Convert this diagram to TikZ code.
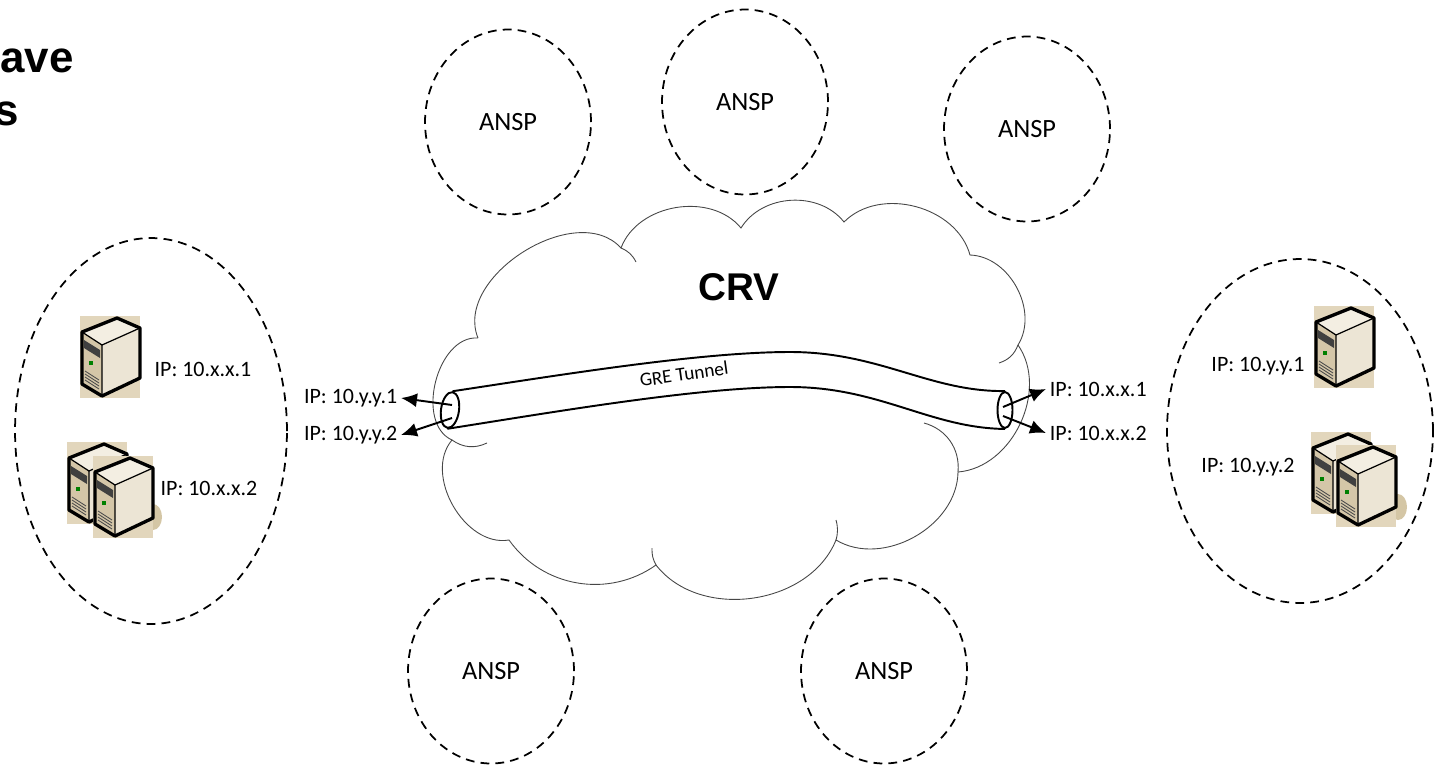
\documentclass[tikz,border=0pt]{standalone}
\usepackage{fontspec}
\setmainfont{Carlito}
\newfontfamily\arialfont{Liberation Sans}
\usetikzlibrary{arrows.meta,shapes.geometric}

\definecolor{srvbg}{RGB}{226,214,188}
\definecolor{srvshade}{RGB}{212,198,165}
\definecolor{srvtop}{RGB}{243,238,226}
\definecolor{srvfront}{RGB}{212,198,168}
\definecolor{srvside}{RGB}{236,229,213}
\definecolor{cloudline}{RGB}{70,70,70}

\tikzset{
  server/.pic={
    \fill[srvbg] (0,0) rectangle (60,82);
    \fill[srvtop] (2,16) -- (37,2) -- (60,12) -- (22,29) -- cycle;
    \fill[srvfront] (2,16) -- (22,29) -- (22,80) -- (2,68) -- cycle;
    \fill[srvside] (22,29) -- (60,12) -- (60,62) -- (22,80) -- cycle;
    \fill[black!75] (4,24) -- (20,34) -- (20,42) -- (4,32) -- cycle;
    \fill[green!50!black] (9,45) rectangle (13,49);
    \foreach \k in {0,3,6,9}
      \draw[black!70, line width=0.5pt] (5,55+\k) -- (19,64+\k);
    \draw[line width=0.7pt] (2,16) -- (22,29) -- (60,12) (22,29) -- (22,80);
    \draw[line width=1.9pt, line join=round] (2,16) -- (37,2) -- (60,12) -- (60,62) -- (22,80) -- (2,68) -- cycle;
  }
}

\begin{document}
\begin{tikzpicture}[x=0.02cm, y=-0.02cm,
  ansp/.style={ellipse, draw, line width=1pt, dash pattern=on 5pt off 3.5pt,
    minimum width=3.32cm, minimum height=3.7cm, font=\fontsize{15}{18}\selectfont},
  site/.style={ellipse, draw, line width=1pt, dash pattern=on 5pt off 3.5pt},
  ip/.style={inner sep=2pt, font=\fontsize{12.5}{14}\selectfont},
  tip/.style={-{Latex[length=3.2mm,width=2.8mm]}, line width=1.1pt},
  puff/.style={draw=cloudline, line width=0.5pt},
  tube/.style={line width=1.1pt},
  title/.style={anchor=base west, inner sep=0, font=\arialfont\bfseries\fontsize{25}{30}\selectfont}
]
\useasboundingbox (0,0) rectangle (1437,765);

% heading, cut at the left edge
\node[title] (title1) at (0,72) {ave};
\node[title] (title2) at (-6,125) {s};

% ANSP domains
\node[ansp] (ansp1) at (508,122) {ANSP};
\node[ansp] (ansp2) at (745,102) {ANSP};
\node[ansp] (ansp3) at (1027,129) {ANSP};
\node[ansp] (ansp4) at (491,671) {ANSP};
\node[ansp] (ansp5) at (884,671) {ANSP};

% the two sites
\node[site, minimum width=5.44cm, minimum height=7.72cm] (leftsite) at (151,431) {};
\node[site, minimum width=5.32cm, minimum height=6.88cm] (rightsite) at (1300,431) {};

% CRV cloud
\coordinate (c1) at (478,338);
\coordinate (c2) at (452,440);
\coordinate (c3) at (509,540);
\coordinate (c4) at (656,565);
\coordinate (c5) at (836,540);
\coordinate (c6) at (958,472);
\coordinate (c7) at (1018,345);
\coordinate (c8) at (970,255);
\coordinate (c9) at (844,222);
\coordinate (c10) at (741,228);
\coordinate (c11) at (621,248);
\filldraw[puff, fill=white] (c1) to[bend right=80] (c2) to[bend right=70] (c3)
  to[bend right=45] (c4) to[bend right=60] (c5) to[bend right=60] (c6)
  to[bend right=60] (c7) to[bend right=60] (c8) to[bend right=60] (c9)
  to[bend right=55] (c10) to[bend right=60] (c11) to[bend right=80] (c1);
\draw[puff] (c2) to[bend right=30] (487,443);
\draw[puff] (652,548) to[bend right=15] (c4);
\draw[puff] (c5) to[bend right=15] (836,520);
\draw[puff] (c6) to[bend right=40] (924,423);
\draw[puff] (999,363) to[bend right=25] (c7);
\draw[puff] (636,262) to[bend right=20] (c11);

\node[font=\arialfont\bfseries\fontsize{22}{26}\selectfont] (crv) at (739,287) {CRV};

% GRE tunnel
\node[ellipse, draw, tube, minimum width=0.36cm, minimum height=0.72cm, inner sep=0, rotate=-8] (lend) at (450,410) {};
\node[ellipse, draw, tube, minimum width=0.3cm, minimum height=0.72cm, inner sep=0] (rend) at (1005,410) {};
\draw[tube] (lend.north) .. controls (560,375) and (700,352) .. (790,352) .. controls (880,352) and (930,392) .. (rend.north);
\draw[tube] (lend.south) .. controls (560,411) and (700,387) .. (790,387) .. controls (880,387) and (930,428) .. (rend.south);
\node[rotate=8, font=\fontsize{11}{13}\selectfont] (gre) at (684,374) {GRE Tunnel};

% tunnel end points
\coordinate (la) at (452,405);
\coordinate (lb) at (452,418);
\coordinate (ra) at (1003,407);
\coordinate (rb) at (1003,416);
\node[ip, anchor=east] (ly1) at (401,398) {IP: 10.y.y.1};
\node[ip, anchor=east] (ly2) at (401,435) {IP: 10.y.y.2};
\node[ip, anchor=west] (rx1) at (1046,389) {IP: 10.x.x.1};
\node[ip, anchor=west] (rx2) at (1046,433) {IP: 10.x.x.2};
\draw[tip] (la) -- (ly1.east);
\draw[tip] (lb) -- (ly2.east);
\draw[tip] (ra) -- (rx1.west);
\draw[tip] (rb) -- (rx2.west);

% servers
\pic at (80,316) {server};
\fill[srvshade] (153,517) ellipse [x radius=9, y radius=13];
\pic at (67,442) {server};
\pic at (93,456) {server};
\pic at (1314,306) {server};
\fill[srvshade] (1398,507) ellipse [x radius=9, y radius=13];
\pic at (1311,432) {server};
\pic at (1336,445) {server};

\node[ip] (sx1) at (203,369) {IP: 10.x.x.1};
\node[ip] (sx2) at (209,488) {IP: 10.x.x.2};
\node[ip] (sy1) at (1258,366) {IP: 10.y.y.1};
\node[ip] (sy2) at (1248,467) {IP: 10.y.y.2};

\end{tikzpicture}
\end{document}
